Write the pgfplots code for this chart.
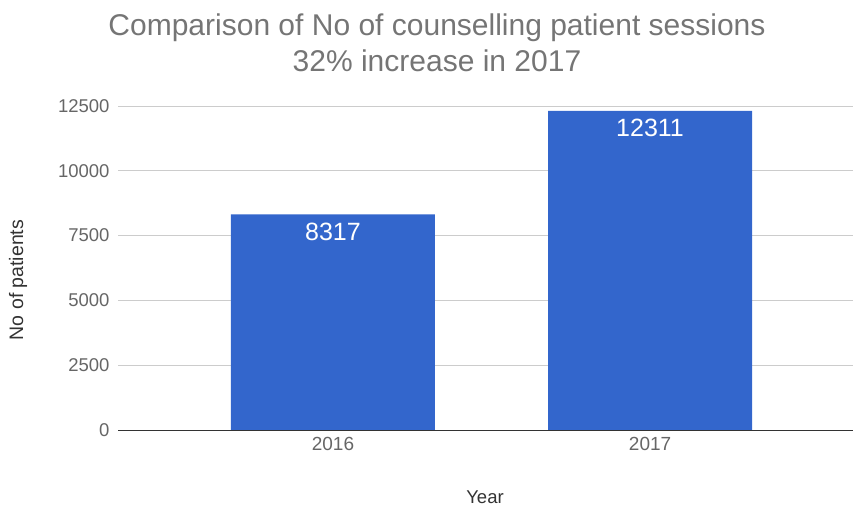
\documentclass[border=0pt]{standalone}
\usepackage{fontspec}
\setmainfont{Liberation Sans}
\usepackage{pgfplots}
\pgfplotsset{compat=1.18}
\definecolor{barblue}{HTML}{3366CC}
\definecolor{gridgray}{HTML}{CCCCCC}
\definecolor{ticktext}{HTML}{666666}
\definecolor{titletext}{HTML}{757575}
\definecolor{labeltext}{HTML}{333333}
\begin{document}
\begin{tikzpicture}
\path[use as bounding box] (-118pt,-84pt) rectangle (735pt,430pt);
\begin{axis}[
  scale only axis,
  width=735pt, height=324pt,
  xmin=-0.678, xmax=1.64,
  ymin=0, ymax=12500,
  ytick={0,2500,5000,7500,10000,12500},
  xtick={0,1}, xticklabels={2016,2017},
  axis x line*=bottom, axis y line*=left,
  axis line style={draw=none},
  ymajorgrids, grid style={gridgray, line width=0.9pt},
  major tick length=0pt,
  /pgf/number format/assume math mode=true,
  yticklabel style={font=\fontsize{18.5}{22}\selectfont, text=ticktext, anchor=east, xshift=-5pt},
  ytick style={draw=none}, xtick style={draw=none},
  xticklabel style={font=\fontsize{19}{22}\selectfont, text=ticktext, yshift=-4pt},
  scaled y ticks=false,
  yticklabel={\pgfmathprintnumber[fixed,1000 sep={}]{\tick}},
  ybar, bar width=204pt,
  nodes near coords,
  every node near coord/.append style={font=\fontsize{25}{30}\selectfont, text=white, anchor=north, yshift=-5pt},
  point meta=explicit symbolic,
  clip=false,
]
\addplot[fill=barblue, draw=none] coordinates {(0,8317)[8317] (1,12311)[12311]};
\draw[labeltext, line width=1pt] (axis cs:-0.678,0) -- (axis cs:1.64,0);
\end{axis}
\node[text=titletext, font=\fontsize{30}{36}\selectfont] at (319pt,402pt) {Comparison of No of counselling patient sessions};
\node[text=titletext, font=\fontsize{30}{36}\selectfont] at (319pt,369pt) {32\% increase in 2017};
\node[text=labeltext, font=\fontsize{18.5}{22}\selectfont] at (367pt,-67pt) {Year};
\node[text=labeltext, font=\fontsize{19.5}{23}\selectfont, rotate=90] at (-100pt,150pt) {No of patients};
\end{tikzpicture}
\end{document}
